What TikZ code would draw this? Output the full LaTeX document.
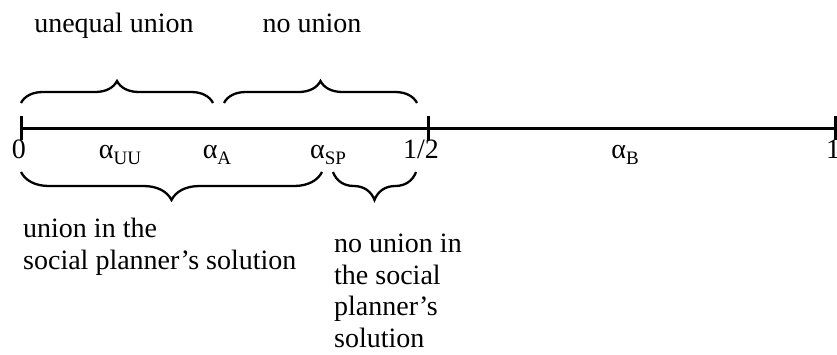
\documentclass[tikz,border=0pt]{standalone}
\usepackage{fontspec}
\setmainfont{Liberation Serif}
\usetikzlibrary{decorations.pathreplacing}
\begin{document}
\begin{tikzpicture}[x=1pt,y=-1pt,
  lbl/.style={font=\fontsize{28}{31.5}\selectfont, inner sep=0pt, anchor=base},
  txt/.style={font=\fontsize{28}{31.5}\selectfont, inner sep=0pt, anchor=north west, align=left},
  axisline/.style={line width=3pt},
  tickmark/.style={line width=3pt},
  bracetop/.style={line width=2.3pt, decorate, decoration={brace, amplitude=22pt}},
  bracebot/.style={line width=2.3pt, decorate, decoration={brace, amplitude=28pt, mirror}}
]
\useasboundingbox (0,0) rectangle (837,354);
% axis points
\coordinate (p0) at (21,128);
\coordinate (ph) at (428,128);
\coordinate (p1) at (835.5,128);
\draw[axisline] (p0) -- (p1);
\foreach \p in {p0,ph,p1}{\draw[tickmark] ([yshift=-12pt]\p) -- ([yshift=12pt]\p);}
% axis labels
\node[lbl] (l0) at (19,158) {0};
\node[lbl] (luu) at (120,158) {α\raisebox{-6pt}{\fontsize{19}{19}\selectfont UU}};
\node[lbl] (la) at (217,158) {α\raisebox{-6pt}{\fontsize{19}{19}\selectfont A}};
\node[lbl] (lsp) at (328,158) {α\raisebox{-6pt}{\fontsize{19}{19}\selectfont SP}};
\node[lbl] (lh) at (421,158) {1/2};
\node[lbl] (lb) at (625,158) {α\raisebox{-6pt}{\fontsize{19}{19}\selectfont B}};
\node[lbl] (l1) at (833,158) {1};
% top braces
\coordinate (t1a) at (21,103); \coordinate (t1b) at (213,103);
\coordinate (t2a) at (224,103); \coordinate (t2b) at (417,103);
\draw[bracetop] (t1a) -- (t1b);
\draw[bracetop] (t2a) -- (t2b);
% bottom braces
\coordinate (b1a) at (21,172); \coordinate (b1b) at (322,172);
\coordinate (b2a) at (333,172); \coordinate (b2b) at (416,172);
\draw[bracebot] (b1a) -- (b1b);
\draw[bracebot] (b2a) -- (b2b);
% top texts
\node[lbl] (tu) at (114,32) {unequal union};
\node[lbl] (tn) at (312,32) {no union};
% bottom texts
\node[txt] (bl) at (23,218) {union in the\\social planner’s solution};
\node[txt] (br) at (334,234) {no union in\\the social\\planner’s\\solution};
\end{tikzpicture}
\end{document}
